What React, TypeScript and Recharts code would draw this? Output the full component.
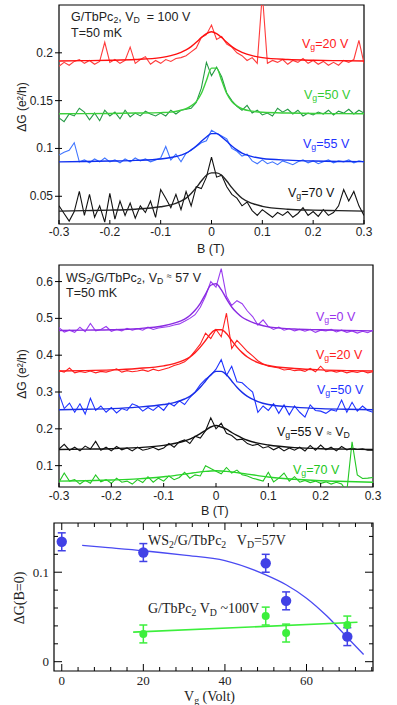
import React from 'react'
import {
  LineChart,
  Line,
  XAxis,
  YAxis,
  ReferenceArea,
  ComposedChart,
  Scatter,
  ErrorBar
} from 'recharts'

const SANS = '"Liberation Sans", Arial, sans-serif'
const SERIF = '"Liberation Serif", "Times New Roman", serif'

// field sweep grid for the measured traces (T)
const bField = [
  -0.3, -0.29, -0.28, -0.27, -0.26, -0.25, -0.24, -0.23, -0.22, -0.21,
  -0.2, -0.19, -0.18, -0.17, -0.16, -0.15, -0.14, -0.13, -0.12, -0.11,
  -0.1, -0.09, -0.08, -0.07, -0.06, -0.05, -0.04, -0.03, -0.02, -0.01,
  0, 0.01, 0.02, 0.03, 0.04, 0.05, 0.06, 0.07, 0.08, 0.09,
  0.1, 0.11, 0.12, 0.13, 0.14, 0.15, 0.16, 0.17, 0.18, 0.19,
  0.2, 0.21, 0.22, 0.23, 0.24, 0.25, 0.26, 0.27, 0.28, 0.29,
  0.3
]
// field points for the fitted curves (T)
const fitField = [
  -0.3, -0.25, -0.2, -0.15, -0.1, -0.08, -0.06, -0.05, -0.04, -0.03, -0.02, -0.01,
  0, 0.01, 0.02, 0.03, 0.04, 0.05, 0.06, 0.08, 0.1, 0.15, 0.2, 0.25, 0.3
]
const bTicks = [-0.3, -0.2, -0.1, 0, 0.1, 0.2, 0.3]

// top panel: G/TbPc2, VD = 100 V
const topTicks = [0.05, 0.1, 0.15, 0.2]
const gVg20 = [
  0.186, 0.19, 0.187, 0.191, 0.193, 0.189, 0.192, 0.188, 0.191, 0.211,
  0.19, 0.193, 0.189, 0.192, 0.206, 0.189, 0.193, 0.196, 0.188, 0.192,
  0.189, 0.193, 0.191, 0.194, 0.195, 0.197, 0.201, 0.205, 0.216, 0.219,
  0.229, 0.214, 0.217, 0.209, 0.206, 0.2, 0.197, 0.192, 0.195, 0.189,
  0.262, 0.189, 0.192, 0.19, 0.193, 0.188, 0.192, 0.19, 0.194, 0.189,
  0.192, 0.188, 0.191, 0.187, 0.19, 0.187, 0.192, 0.19, 0.193, 0.213,
  0.189
]
const gVg20Fit = [
  0.1915, 0.1918, 0.1922, 0.193, 0.195, 0.197, 0.2005, 0.203, 0.2065, 0.211, 0.216, 0.22,
  0.222, 0.22, 0.216, 0.211, 0.2065, 0.203, 0.2005, 0.197, 0.195, 0.193, 0.1922, 0.1918, 0.1915
]
const gVg50 = [
  0.132, 0.128, 0.136, 0.134, 0.142, 0.138, 0.13, 0.137, 0.129, 0.14,
  0.134, 0.138, 0.131, 0.14, 0.133, 0.137, 0.134, 0.139, 0.136, 0.134,
  0.137, 0.134, 0.14, 0.136, 0.14, 0.141, 0.142, 0.148, 0.163, 0.19,
  0.176, 0.185, 0.175, 0.158, 0.15, 0.144, 0.14, 0.145, 0.137, 0.14,
  0.135, 0.137, 0.134, 0.142, 0.138, 0.141, 0.136, 0.14, 0.134, 0.137,
  0.135, 0.138, 0.136, 0.14, 0.135, 0.139, 0.137, 0.141, 0.136, 0.14,
  0.137
]
const gVg50Fit = [
  0.1363, 0.1364, 0.1366, 0.137, 0.1375, 0.138, 0.14, 0.1415, 0.1445, 0.149, 0.1575, 0.171,
  0.184, 0.184, 0.171, 0.1575, 0.149, 0.1445, 0.1415, 0.139, 0.1378, 0.137, 0.1366, 0.1364, 0.1363
]
const gVg55 = [
  0.093, 0.096, 0.098, 0.106, 0.086, 0.088, 0.085, 0.089, 0.086, 0.09,
  0.086, 0.088, 0.085, 0.089, 0.086, 0.09, 0.087, 0.089, 0.086, 0.088,
  0.09, 0.102, 0.088, 0.094, 0.086, 0.095, 0.098, 0.102, 0.106, 0.108,
  0.119, 0.116, 0.113, 0.11, 0.1, 0.097, 0.092, 0.094, 0.087, 0.084,
  0.088, 0.084, 0.086, 0.083, 0.087, 0.085, 0.083, 0.086, 0.088, 0.085,
  0.087, 0.084, 0.086, 0.088, 0.085, 0.087, 0.086, 0.088, 0.085, 0.087,
  0.086
]
const gVg55Fit = [
  0.086, 0.0863, 0.0868, 0.0875, 0.089, 0.0905, 0.093, 0.095, 0.0985, 0.1025, 0.1075, 0.112,
  0.1155, 0.1155, 0.112, 0.1075, 0.1025, 0.0985, 0.095, 0.0915, 0.0895, 0.0878, 0.0869, 0.0864, 0.0862
]
const gVg70 = [
  0.04, 0.032, 0.024, 0.034, 0.055, 0.03, 0.052, 0.028, 0.04, 0.023,
  0.053, 0.026, 0.045, 0.03, 0.043, 0.027, 0.04, 0.033, 0.045, 0.028,
  0.057, 0.048, 0.038, 0.052, 0.036, 0.055, 0.04, 0.06, 0.058, 0.07,
  0.091, 0.07, 0.072, 0.06, 0.052, 0.048, 0.04, 0.044, 0.035, 0.03,
  0.036, 0.032, 0.028, 0.033, 0.03, 0.034, 0.028, 0.032, 0.038, 0.03,
  0.034, 0.029, 0.036, 0.03, 0.033, 0.04, 0.057, 0.045, 0.055, 0.04,
  0.03
]
const gVg70Fit = [
  0.0345, 0.035, 0.0355, 0.0365, 0.039, 0.041, 0.045, 0.048, 0.053, 0.059, 0.066, 0.072,
  0.0745, 0.0745, 0.072, 0.066, 0.059, 0.053, 0.048, 0.0425, 0.0395, 0.0365, 0.0355, 0.035, 0.0345
]

// middle panel: WS2/G/TbPc2, VD = 57 V
const midTicks = [0.1, 0.2, 0.3, 0.4, 0.5, 0.6]
const wVg0 = [
  0.475, 0.463, 0.468, 0.462, 0.476, 0.464, 0.486, 0.466, 0.47, 0.478,
  0.465, 0.47, 0.466, 0.473, 0.468, 0.472, 0.468, 0.476, 0.47, 0.474,
  0.476, 0.478, 0.482, 0.485, 0.492, 0.5, 0.51, 0.53, 0.56, 0.6,
  0.585, 0.635, 0.56, 0.535, 0.548, 0.54, 0.52, 0.505, 0.482, 0.496,
  0.478, 0.47, 0.476, 0.468, 0.472, 0.466, 0.47, 0.465, 0.47, 0.462,
  0.468, 0.466, 0.47, 0.463, 0.468, 0.462, 0.466, 0.46, 0.465, 0.461,
  0.468
]
const wVg0Fit = [
  0.467, 0.468, 0.469, 0.472, 0.48, 0.487, 0.498, 0.508, 0.522, 0.541, 0.566, 0.59,
  0.594, 0.578, 0.553, 0.531, 0.515, 0.503, 0.495, 0.484, 0.477, 0.471, 0.469, 0.467, 0.466
]
const wVg20 = [
  0.358, 0.354, 0.365, 0.352, 0.356, 0.353, 0.357, 0.352, 0.356, 0.354,
  0.358, 0.363, 0.354, 0.358, 0.355, 0.357, 0.36, 0.356, 0.362, 0.358,
  0.362, 0.366, 0.372, 0.376, 0.382, 0.394, 0.412, 0.43, 0.46, 0.445,
  0.47, 0.45, 0.514, 0.418, 0.44, 0.425, 0.41, 0.398, 0.385, 0.376,
  0.37, 0.368, 0.365, 0.36, 0.362, 0.358, 0.36, 0.356, 0.364, 0.355,
  0.37, 0.355, 0.358, 0.354, 0.357, 0.352, 0.356, 0.353, 0.357, 0.352,
  0.355
]
const wVg20Fit = [
  0.357, 0.358, 0.36, 0.364, 0.371, 0.377, 0.387, 0.395, 0.407, 0.422, 0.44, 0.459,
  0.469, 0.469, 0.459, 0.44, 0.422, 0.407, 0.395, 0.38, 0.372, 0.364, 0.36, 0.358, 0.357
]
const wVg50 = [
  0.295, 0.255, 0.27, 0.245, 0.268, 0.24, 0.283, 0.25, 0.262, 0.245,
  0.258, 0.243, 0.255, 0.25, 0.268, 0.262, 0.248, 0.258, 0.25, 0.262,
  0.25, 0.27, 0.262, 0.276, 0.266, 0.285, 0.3, 0.32, 0.335, 0.345,
  0.362, 0.388, 0.345, 0.37, 0.328, 0.325, 0.312, 0.3, 0.245, 0.262,
  0.25, 0.268, 0.242, 0.265, 0.238, 0.262, 0.245, 0.232, 0.265, 0.25,
  0.248, 0.242, 0.252, 0.248, 0.278, 0.245, 0.272, 0.248, 0.262, 0.25,
  0.245
]
const wVg50Fit = [
  0.252, 0.253, 0.255, 0.259, 0.266, 0.271, 0.281, 0.288, 0.299, 0.313, 0.33, 0.347,
  0.356, 0.356, 0.347, 0.33, 0.313, 0.299, 0.288, 0.274, 0.266, 0.259, 0.255, 0.253, 0.252
]
const wVg55 = [
  0.145, 0.158, 0.142, 0.15, 0.14, 0.153, 0.145, 0.166, 0.142, 0.15,
  0.14, 0.152, 0.143, 0.148, 0.14, 0.15, 0.142, 0.145, 0.15, 0.143,
  0.148, 0.16, 0.15, 0.165, 0.17, 0.16, 0.18, 0.175, 0.195, 0.23,
  0.2, 0.215, 0.188, 0.182, 0.17, 0.172, 0.16, 0.155, 0.158, 0.148,
  0.152, 0.143, 0.15, 0.14, 0.148, 0.142, 0.15, 0.14, 0.155, 0.142,
  0.156, 0.143, 0.15, 0.14, 0.152, 0.143, 0.148, 0.144, 0.146, 0.142,
  0.142
]
const wVg55Fit = [
  0.144, 0.145, 0.146, 0.149, 0.155, 0.16, 0.167, 0.172, 0.179, 0.187, 0.196, 0.205,
  0.209, 0.205, 0.199, 0.19, 0.182, 0.175, 0.169, 0.161, 0.156, 0.149, 0.146, 0.145, 0.144
]
const wVg70 = [
  0.055, 0.08, 0.058, 0.062, 0.05, 0.06, 0.052, 0.075, 0.056, 0.062,
  0.052, 0.066, 0.055, 0.058, 0.05, 0.062, 0.054, 0.07, 0.055, 0.066,
  0.058, 0.072, 0.062, 0.068, 0.082, 0.066, 0.075, 0.072, 0.1, 0.092,
  0.085, 0.078, 0.095, 0.08, 0.088, 0.075, 0.072, 0.066, 0.062, 0.058,
  0.082, 0.056, 0.066, 0.08, 0.058, 0.07, 0.055, 0.06, 0.054, 0.058,
  0.052, 0.056, 0.05, 0.055, 0.05, 0.03, 0.165, 0.075, 0.065, 0.066,
  0.068
]
const wVg70Fit = [
  0.058, 0.059, 0.061, 0.064, 0.07, 0.073, 0.077, 0.079, 0.081, 0.083, 0.0845, 0.0855,
  0.086, 0.0855, 0.0845, 0.083, 0.081, 0.079, 0.077, 0.073, 0.069, 0.063, 0.059, 0.057, 0.055
]

// bottom panel: zero-field peak vs gate voltage
const vgTicks = [0, 4, 8, 12, 16, 20, 24, 28, 32, 36, 40, 44, 48, 52, 56, 60, 64, 68, 72, 76]
const dgTicks = [0, 0.02, 0.04, 0.06, 0.08, 0.1, 0.12, 0.14]
const ws2Vg = [0, 20, 50, 55, 70]
const ws2Peak = [0.134, 0.122, 0.11, 0.068, 0.028]
const ws2Err = [0.01, 0.01, 0.01, 0.01, 0.01]
const ws2FitVg = [5, 10, 20, 30, 40, 50, 55, 60, 65, 70, 74]
const ws2FitPeak = [0.13, 0.128, 0.124, 0.119, 0.113, 0.097, 0.086, 0.071, 0.051, 0.027, 0.008]
const gVg = [20, 50, 55, 70]
const gPeak = [0.031, 0.051, 0.032, 0.041]
const gErr = [0.01, 0.01, 0.01, 0.01]
const gFitVg = [17.5, 72.5]
const gFitPeak = [0.033, 0.044]

const toRows = (xs: number[], ys: number[]) => xs.map((x, i) => ({ x, y: ys[i] }))

interface Trace {
  raw: number[]
  fit: number[]
  rawColor: string
  fitColor: string
}

const topTraces: Trace[] = [
  { raw: gVg20, fit: gVg20Fit, rawColor: '#ff3b3b', fitColor: '#ff1010' },
  { raw: gVg50, fit: gVg50Fit, rawColor: '#259a45', fitColor: '#3ccf3c' },
  { raw: gVg55, fit: gVg55Fit, rawColor: '#3f74ff', fitColor: '#1030f0' },
  { raw: gVg70, fit: gVg70Fit, rawColor: '#111111', fitColor: '#222222' }
]
const midTraces: Trace[] = [
  { raw: wVg0, fit: wVg0Fit, rawColor: '#9a3cf0', fitColor: '#8a2be2' },
  { raw: wVg20, fit: wVg20Fit, rawColor: '#ff2020', fitColor: '#ff1a1a' },
  { raw: wVg50, fit: wVg50Fit, rawColor: '#1f33ff', fitColor: '#1a2ee8' },
  { raw: wVg55, fit: wVg55Fit, rawColor: '#111111', fitColor: '#111111' },
  { raw: wVg70, fit: wVg70Fit, rawColor: '#22c722', fitColor: '#2ad42a' }
]

const sweepBottomTick = (dy: number) => (p: any) => (
  <g>
    <line x1={p.x} x2={p.x} y1={p.y} y2={p.y - 4} stroke="#000" />
    <text x={p.x} y={p.y + dy} textAnchor="middle" fontSize={12} fontFamily={SANS} fill="#222">
      {p.payload.value}
    </text>
  </g>
)

const sweepLeftTick = (p: any) => (
  <g>
    <line x1={p.x - 4} x2={p.x + 3} y1={p.y} y2={p.y} stroke="#000" />
    <text x={p.x - 6} y={p.y + 4} textAnchor="end" fontSize={12} fontFamily={SANS} fill="#222">
      {p.payload.value}
    </text>
  </g>
)

interface Box {
  left: number
  right: number
  top: number
  bottom: number
}

function SweepPanel({ top, height, box, yDomain, yTicks, traces, tickDy }: {
  top: number
  height: number
  box: Box
  yDomain: [number, number]
  yTicks: number[]
  traces: Trace[]
  tickDy: number
}) {
  return (
    <div style={{ position: 'absolute', left: 0, top }}>
      <LineChart
        width={397}
        height={height}
        margin={{ top: box.top - top, right: 397 - box.right, bottom: 0, left: 0 }}
      >
        <XAxis
          dataKey="x"
          type="number"
          domain={[-0.3, 0.3]}
          ticks={bTicks}
          allowDataOverflow
          interval={0}
          height={top + height - box.bottom}
          axisLine={false}
          tickLine={false}
          tickSize={0}
          tickMargin={0}
          tick={sweepBottomTick(tickDy)}
        />
        <YAxis
          type="number"
          domain={yDomain}
          ticks={yTicks}
          allowDataOverflow
          interval={0}
          width={box.left}
          axisLine={false}
          tickLine={false}
          tickSize={0}
          tickMargin={0}
          tick={sweepLeftTick}
        />
        <ReferenceArea x1={-0.3} x2={0.3} y1={yDomain[0]} y2={yDomain[1]} fill="none" stroke="#000" strokeWidth={1.2} />
        {traces.map((t, i) => (
          <Line
            key={'raw' + i}
            data={toRows(bField, t.raw)}
            dataKey="y"
            type="linear"
            stroke={t.rawColor}
            strokeWidth={1.1}
            dot={false}
            isAnimationActive={false}
          />
        ))}
        {traces.map((t, i) => (
          <Line
            key={'fit' + i}
            data={toRows(fitField, t.fit)}
            dataKey="y"
            type="monotone"
            stroke={t.fitColor}
            strokeWidth={1.4}
            dot={false}
            isAnimationActive={false}
          />
        ))}
      </LineChart>
    </div>
  )
}

function Lbl({ x, y, color = '#222', size = 12.5, font = SANS, children }: any) {
  return (
    <div
      style={{
        position: 'absolute',
        left: x,
        top: y,
        transform: 'translateY(-50%)',
        whiteSpace: 'nowrap',
        lineHeight: 1,
        fontFamily: font,
        fontSize: size,
        color
      }}
    >
      {children}
    </div>
  )
}

function VLbl({ x, y, size = 12, font = SANS, children }: any) {
  return (
    <div
      style={{
        position: 'absolute',
        left: x,
        top: y,
        transform: 'translate(-50%, -50%) rotate(-90deg)',
        whiteSpace: 'nowrap',
        lineHeight: 1,
        fontFamily: font,
        fontSize: size,
        color: '#222'
      }}
    >
      {children}
    </div>
  )
}

const Sub = ({ children }: any) => (
  <sub style={{ fontSize: '0.7em', verticalAlign: '-0.3em', lineHeight: 0 }}>{children}</sub>
)

// bottom panel ticks (inward, major every 20 V / 0.1)
const vgBottomTick = (p: any) => {
  const v = p.payload.value
  const major = v % 20 === 0
  return (
    <g>
      <line x1={p.x} x2={p.x} y1={p.y} y2={p.y - (major ? 7 : 4)} stroke="#000" />
      {major && (
        <text x={p.x} y={p.y + 14} textAnchor="middle" fontSize={13} fontFamily={SERIF} fill="#222">
          {v}
        </text>
      )}
    </g>
  )
}
const vgTopTick = (p: any) => {
  const major = p.payload.value % 20 === 0
  return <line x1={p.x} x2={p.x} y1={p.y} y2={p.y + (major ? 7 : 4)} stroke="#000" />
}
const dgLeftTick = (p: any) => {
  const v = p.payload.value
  const major = v === 0 || v === 0.1
  return (
    <g>
      <line x1={p.x} x2={p.x + (major ? 8 : 4)} y1={p.y} y2={p.y} stroke="#000" />
      {major && (
        <text x={p.x - 5} y={p.y + 4.5} textAnchor="end" fontSize={13} fontFamily={SERIF} fill="#222">
          {v}
        </text>
      )}
    </g>
  )
}
const dgRightTick = (p: any) => {
  const v = p.payload.value
  const major = v === 0 || v === 0.1
  return <line x1={p.x} x2={p.x - (major ? 8 : 4)} y1={p.y} y2={p.y} stroke="#000" />
}

function PeakPanel() {
  const ws2Points = ws2Vg.map((x, i) => ({ x, y: ws2Peak[i], err: ws2Err[i] }))
  const gPoints = gVg.map((x, i) => ({ x, y: gPeak[i], err: gErr[i] }))
  const xDomain: [number, number] = [-1.9, 76.3]
  const yDomain: [number, number] = [-0.0104, 0.155]
  return (
    <div style={{ position: 'absolute', left: 0, top: 515 }}>
      <ComposedChart width={397} height={190} margin={{ top: 7, right: 23, bottom: 0, left: 0 }}>
        <XAxis
          xAxisId="b"
          dataKey="x"
          type="number"
          domain={xDomain}
          ticks={vgTicks}
          allowDataOverflow
          interval={0}
          height={34}
          axisLine={false}
          tickLine={false}
          tickSize={0}
          tickMargin={0}
          tick={vgBottomTick}
        />
        <XAxis
          xAxisId="t"
          orientation="top"
          dataKey="x"
          type="number"
          domain={xDomain}
          ticks={vgTicks}
          allowDataOverflow
          interval={0}
          height={1}
          axisLine={false}
          tickLine={false}
          tickSize={0}
          tickMargin={0}
          tick={vgTopTick}
        />
        <YAxis
          yAxisId="l"
          type="number"
          domain={yDomain}
          ticks={dgTicks}
          allowDataOverflow
          interval={0}
          width={54}
          axisLine={false}
          tickLine={false}
          tickSize={0}
          tickMargin={0}
          tick={dgLeftTick}
        />
        <YAxis
          yAxisId="r"
          orientation="right"
          type="number"
          domain={yDomain}
          ticks={dgTicks}
          allowDataOverflow
          interval={0}
          width={1}
          axisLine={false}
          tickLine={false}
          tickSize={0}
          tickMargin={0}
          tick={dgRightTick}
        />
        <ReferenceArea
          xAxisId="b"
          yAxisId="l"
          x1={xDomain[0]}
          x2={xDomain[1]}
          y1={yDomain[0]}
          y2={yDomain[1]}
          fill="none"
          stroke="#000"
          strokeWidth={1.2}
        />
        <Line
          xAxisId="b"
          yAxisId="l"
          data={toRows(ws2FitVg, ws2FitPeak)}
          dataKey="y"
          type="monotone"
          stroke="#4a4af2"
          strokeWidth={1.3}
          dot={false}
          isAnimationActive={false}
        />
        <Line
          xAxisId="b"
          yAxisId="l"
          data={toRows(gFitVg, gFitPeak)}
          dataKey="y"
          type="linear"
          stroke="#3cef3c"
          strokeWidth={1.6}
          dot={false}
          isAnimationActive={false}
        />
        <Scatter
          xAxisId="b"
          yAxisId="l"
          data={gPoints}
          dataKey="y"
          isAnimationActive={false}
          shape={(p: any) => <circle cx={p.cx} cy={p.cy} r={4} fill="#3cef3c" />}
        >
          <ErrorBar dataKey="err" direction="y" width={4} stroke="#3cef3c" strokeWidth={1.5} />
        </Scatter>
        <Scatter
          xAxisId="b"
          yAxisId="l"
          data={ws2Points}
          dataKey="y"
          isAnimationActive={false}
          shape={(p: any) => <circle cx={p.cx} cy={p.cy} r={5.2} fill="#4141e6" />}
        >
          <ErrorBar dataKey="err" direction="y" width={4} stroke="#4141e6" strokeWidth={1.5} />
        </Scatter>
      </ComposedChart>
    </div>
  )
}

export default function App() {
  return (
    <div style={{ position: 'relative', width: 397, height: 705, background: '#fff', overflow: 'hidden' }}>
      <style>{'body{margin:0;background:#fff}'}</style>

      <SweepPanel
        top={0}
        height={258}
        box={{ left: 59, right: 364, top: 5, bottom: 224 }}
        yDomain={[0.021, 0.25]}
        yTicks={topTicks}
        traces={topTraces}
        tickDy={12}
      />
      <Lbl x={71} y={17}>G/TbPc<Sub>2</Sub>, V<Sub>D</Sub>&nbsp; = 100 V</Lbl>
      <Lbl x={71} y={33}>T=50 mK</Lbl>
      <Lbl x={302} y={44} color="#ff2020">V<Sub>g</Sub>=20 V</Lbl>
      <Lbl x={304} y={95} color="#33cc33">V<Sub>g</Sub>=50 V</Lbl>
      <Lbl x={303} y={144} color="#1f33ff">V<Sub>g</Sub>=55 V</Lbl>
      <Lbl x={288} y={193} color="#111">V<Sub>g</Sub>=70 V</Lbl>
      <VLbl x={22} y={107}>ΔG (e²/h)</VLbl>
      <Lbl x={197} y={249}>B (T)</Lbl>

      <SweepPanel
        top={258}
        height={257}
        box={{ left: 59, right: 373, top: 265, bottom: 487 }}
        yDomain={[0.042, 0.645]}
        yTicks={midTicks}
        traces={midTraces}
        tickDy={13}
      />
      <Lbl x={66} y={278}>WS<Sub>2</Sub>/G/TbPc<Sub>2</Sub>, V<Sub>D</Sub> <span style={{ fontSize: 9, verticalAlign: '0.3em' }}>≈</span> 57 V</Lbl>
      <Lbl x={66} y={293}>T=50 mK</Lbl>
      <Lbl x={316} y={317} color="#9933ee">V<Sub>g</Sub>=0 V</Lbl>
      <Lbl x={316} y={355} color="#ff2020">V<Sub>g</Sub>=20 V</Lbl>
      <Lbl x={317} y={390} color="#1f33ff">V<Sub>g</Sub>=50 V</Lbl>
      <Lbl x={277} y={432} color="#111">V<Sub>g</Sub>=55 V <span style={{ fontSize: 9 }}>≈</span> V<Sub>D</Sub></Lbl>
      <Lbl x={293} y={470} color="#22c722">V<Sub>g</Sub>=70 V</Lbl>
      <VLbl x={22} y={374}>ΔG (e²/h)</VLbl>
      <Lbl x={201} y={511}>B (T)</Lbl>

      <PeakPanel />
      <Lbl x={148} y={541} size={14} font={SERIF}>WS<Sub>2</Sub>/G/TbPc<Sub>2</Sub>&nbsp;&nbsp;&nbsp;V<Sub>D</Sub>=57V</Lbl>
      <Lbl x={148} y={609} size={14} font={SERIF}>G/TbPc<Sub>2</Sub> V<Sub>D</Sub> ~100V</Lbl>
      <VLbl x={20} y={598} size={14} font={SERIF}>ΔG(B=0)</VLbl>
      <Lbl x={184} y={697} size={14} font={SERIF}>V<Sub>g</Sub> (Volt)</Lbl>
    </div>
  )
}
